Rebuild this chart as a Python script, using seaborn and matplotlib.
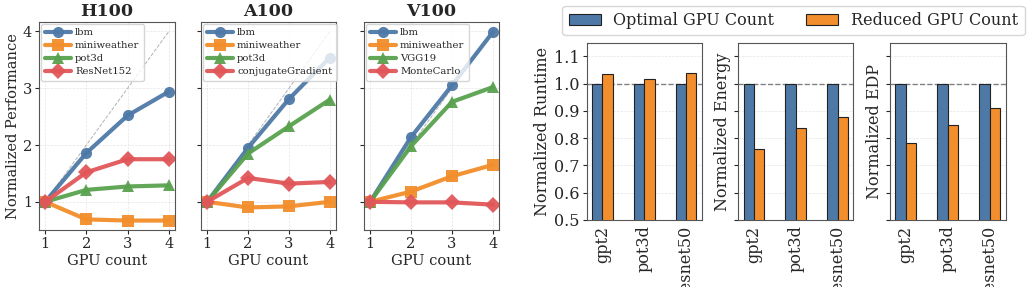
#Escalado de GPUs y barras normalizadas con seaborn

import numpy as np
import pandas as pd
import seaborn as sns
import matplotlib.pyplot as plt

gpus = [1, 2, 3, 4]

#rendimiento normalizado por GPU
h100_names = ["lbm", "miniweather", "pot3d", "ResNet152"]
h100_lbm = [1.0, 1.86, 2.52, 2.94]
h100_miniweather = [1.0, 0.69, 0.67, 0.67]
h100_pot3d = [1.0, 1.21, 1.27, 1.29]
h100_resnet152 = [1.0, 1.52, 1.75, 1.75]

a100_names = ["lbm", "miniweather", "pot3d", "conjugateGradient"]
a100_lbm = [1.0, 1.95, 2.81, 3.54]
a100_miniweather = [1.0, 0.90, 0.92, 1.0]
a100_pot3d = [1.0, 1.85, 2.33, 2.80]
a100_cg = [1.0, 1.42, 1.32, 1.35]

v100_names = ["lbm", "miniweather", "VGG19", "MonteCarlo"]
v100_lbm = [1.0, 2.14, 3.05, 3.99]
v100_miniweather = [1.0, 1.18, 1.45, 1.65]
v100_vgg19 = [1.0, 1.98, 2.76, 3.02]
v100_montecarlo = [1.0, 0.99, 0.99, 0.95]

#barras
apps = ["gpt2", "pot3d", "resnet50"]
configs = ["Optimal GPU Count", "Reduced GPU Count"]
runtime_opt = [1.0, 1.0, 1.0]
runtime_red = [1.034, 1.016, 1.039]
energy_opt = [1.0, 1.0, 1.0]
energy_red = [0.759, 0.837, 0.878]
edp_opt = [1.0, 1.0, 1.0]
edp_red = [0.784, 0.849, 0.911]

sns.set_style("ticks")
plt.rcParams["font.family"] = ["DejaVu Serif"]
plt.rcParams["axes.edgecolor"] = "#555555"

line_colors = ["#4e79a7", "#f28e2b", "#59a14f", "#e15759"]
markers = ["o", "s", "^", "D"]
bar_colors = ["#4e79a7", "#f28e2b"]

W, H = 1031, 287
fig = plt.figure(figsize=(W / 100, H / 100), dpi=100)

def box(x0, x1, y0, y1):
    return [x0 / W, (H - y1) / H, (x1 - x0) / W, (y1 - y0) / H]

#graficas de lineas
panels = [
    ("H100", h100_names, [h100_lbm, h100_miniweather, h100_pot3d, h100_resnet152], (39, 175)),
    ("A100", a100_names, [a100_lbm, a100_miniweather, a100_pot3d, a100_cg], (201, 336)),
    ("V100", v100_names, [v100_lbm, v100_miniweather, v100_vgg19, v100_montecarlo], (364, 499)),
]
first = None
for i, (title, names, series, (x0, x1)) in enumerate(panels):
    ax = fig.add_axes(box(x0, x1, 22, 230), sharey=first)
    if first is None:
        first = ax
    ax.plot([1, 4], [1, 4], ls="--", color="gray", lw=0.7, alpha=0.6, zorder=1)
    for j, (name, vals) in enumerate(zip(names, series)):
        sns.lineplot(x=gpus, y=vals, ax=ax, color=line_colors[j], marker=markers[j],
                     markersize=8, markeredgewidth=0, linewidth=3, label=name, alpha=0.95)
    ax.set_title(title, fontsize=12.5, fontweight="bold", pad=4)
    ax.set_xticks(gpus)
    ax.set_yticks([1, 2, 3, 4])
    ax.grid(True, ls="--", lw=0.5, alpha=0.5)
    ax.set_xlabel("GPU count", fontsize=10.5, labelpad=2)
    ax.tick_params(labelsize=10.5, length=3, pad=2)
    if i == 0:
        ax.set_ylabel("Normalized Performance", fontsize=10.5, labelpad=2)
    else:
        ax.set_ylabel("")
        ax.tick_params(labelleft=False)
    ax.legend(loc="upper left", fontsize=7.2, handlelength=2.6, borderpad=0.45,
              labelspacing=0.4, handletextpad=0.4, borderaxespad=0.15)

#graficas de barras
bar_panels = [
    ("Normalized Runtime", runtime_opt, runtime_red, (586.7, 701.7)),
    ("Normalized Energy", energy_opt, energy_red, (738.3, 853.3)),
    ("Normalized EDP", edp_opt, edp_red, (890, 1005.7)),
]
bfirst = None
for i, (label, opt, red, (x0, x1)) in enumerate(bar_panels):
    ax = fig.add_axes(box(x0, x1, 42.7, 220), sharey=bfirst)
    if bfirst is None:
        bfirst = ax
    df = pd.DataFrame({
        "app": apps * 2,
        "config": [configs[0]] * 3 + [configs[1]] * 3,
        "value": opt + red,
    })
    sns.barplot(data=df, x="app", y="value", hue="config", palette=bar_colors, saturation=1,
                width=0.5, edgecolor="#222222", linewidth=0.8, ax=ax, legend=(i == 0), zorder=3)
    ax.axhline(1.0, ls="--", color="gray", lw=1, zorder=2)
    ax.set_ylim(0.5, 1.15)
    ax.set_xlim(-0.375, 2.375)
    ax.set_yticks([0.5, 0.6, 0.7, 0.8, 0.9, 1.0, 1.1])
    ax.yaxis.grid(True, ls="--", lw=0.5, alpha=0.5)
    ax.set_axisbelow(True)
    ax.set_xlabel("")
    ax.tick_params(axis="x", labelrotation=90, labelsize=11.5, length=0, pad=4)
    ax.tick_params(axis="y", labelsize=11.5, length=3, pad=2)
    ax.set_ylabel(label, fontsize=11.5, labelpad=2)
    if i > 0:
        ax.tick_params(labelleft=False)
    if i == 0:
        handles, labels = ax.get_legend_handles_labels()
        ax.get_legend().remove()
        fig.legend(handles, labels, loc="center", bbox_to_anchor=(793.5 / W, 266.5 / H),
                   ncol=2, fontsize=11.5, frameon=True, borderpad=0.4, columnspacing=2.0)

fig.savefig("out.png", dpi=100)
